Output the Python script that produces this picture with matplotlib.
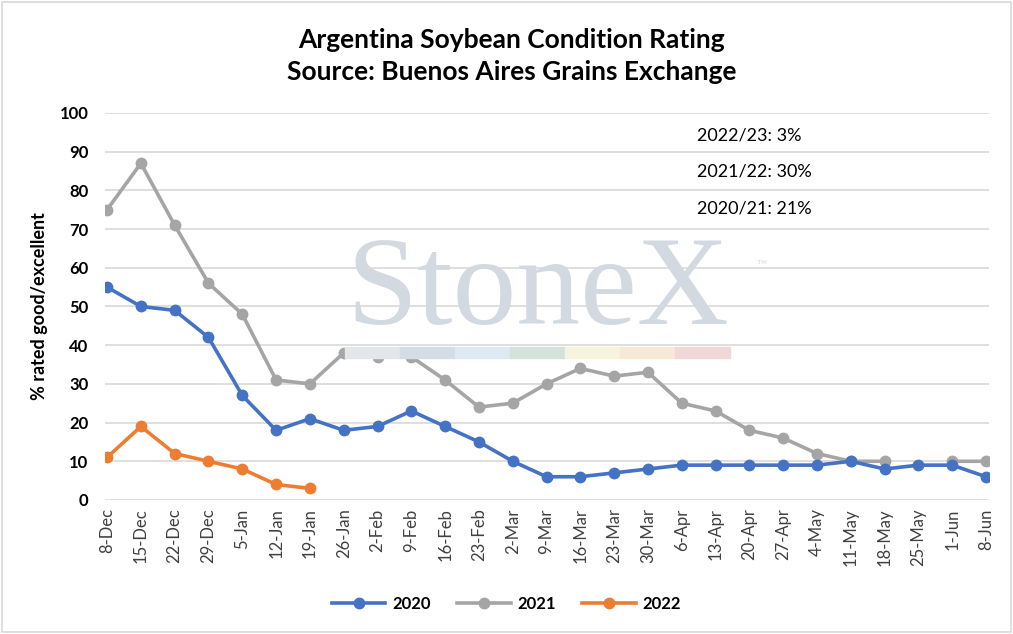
import numpy as np
import matplotlib
matplotlib.use('Agg')
import matplotlib.pyplot as plt
from matplotlib.patches import Rectangle

weeks = ['8-Dec', '15-Dec', '22-Dec', '29-Dec', '5-Jan', '12-Jan', '19-Jan',
         '26-Jan', '2-Feb', '9-Feb', '16-Feb', '23-Feb', '2-Mar', '9-Mar',
         '16-Mar', '23-Mar', '30-Mar', '6-Apr', '13-Apr', '20-Apr', '27-Apr',
         '4-May', '11-May', '18-May', '25-May', '1-Jun', '8-Jun']

s2020 = [55, 50, 49, 42, 27, 18, 21, 18, 19, 23, 19, 15, 10, 6, 6, 7, 8,
         9, 9, 9, 9, 9, 10, 8, 9, 9, 6]
s2021 = [75, 87, 71, 56, 48, 31, 30, 38, 37, 37, 31, 24, 25, 30, 34, 32, 33,
         25, 23, 18, 16, 12, 10, 10, np.nan, 10, 10]
s2022 = [11, 19, 12, 10, 8, 4, 3]

notes = ['2022/23: 3%', '2021/22: 30%', '2020/21: 21%']

plt.rcParams['font.family'] = ['Lato', 'DejaVu Sans']

fig = plt.figure(figsize=(10.13, 6.34), dpi=100)
ax = fig.add_axes([0.1037, 0.2114, 0.873, 0.6104])

# faint watermark
fig.text(0.531, 0.538, 'StoneX', fontsize=92, family='Liberation Serif',
         color='#d3d9e1', ha='center', va='center', zorder=0)
fig.text(0.752, 0.580, '\u2122', fontsize=10, color='#dde2e8',
         ha='center', va='center', zorder=0)
bar_cols = ['#e3e6ea', '#d4dce6', '#dde9f3', '#d3e3da', '#f6f4dc', '#f7e8d8', '#f1d7d7']
bx = 0.341
bw = 0.0543
for c in bar_cols:
    fig.patches.append(Rectangle((bx, 0.435), bw, 0.018, transform=fig.transFigure,
                                 color=c, zorder=0))
    bx += bw

x = np.arange(len(weeks))
lw, ms = 2.6, 7.5
ax.plot(x, s2020, color='#4472C4', lw=lw, marker='o', ms=ms, label='2020', zorder=3)
ax.plot(x, s2021, color='#A5A5A5', lw=lw, marker='o', ms=ms, label='2021', zorder=2)
ax.plot(x[:len(s2022)], s2022, color='#ED7D31', lw=lw, marker='o', ms=ms,
        label='2022', zorder=4)

ax.set_xlim(-0.06, len(weeks) - 1 + 0.1)
ax.set_ylim(0, 100)
ax.set_yticks(range(0, 101, 10))
ax.set_xticks(x)
ax.set_xticklabels(weeks, rotation=90, fontsize=12, color='#404040')
for t in ax.get_yticklabels():
    t.set_fontweight('bold')
    t.set_fontsize(12)
ax.tick_params(length=0, pad=6)
ax.tick_params(axis='y', pad=12)
ax.grid(axis='y', color='#d9d9d9', lw=1.2)
ax.set_axisbelow(True)
for sp in ax.spines.values():
    sp.set_visible(False)
ax.patch.set_alpha(0)

ax.set_ylabel('% rated good/excellent', fontsize=13, fontweight='bold', labelpad=8)

for i, n in enumerate(notes):
    fig.text(0.688, 0.787 - i * 0.058, n, fontsize=13, va='center', ha='left')

fig.text(0.505, 0.937, 'Argentina Soybean Condition Rating', fontsize=19,
         fontweight='bold', ha='center', va='center')
fig.text(0.505, 0.886, 'Source: Buenos Aires Grains Exchange', fontsize=19,
         fontweight='bold', ha='center', va='center')

leg = fig.legend(loc='center', bbox_to_anchor=(0.5, 0.048), ncol=3, frameon=False,
                 prop={'weight': 'bold', 'size': 12}, handlelength=3.2,
                 columnspacing=1.6, handletextpad=0.4)

fig.patches.append(Rectangle((0.002, 0.003), 0.996, 0.994, transform=fig.transFigure,
                             fill=False, edgecolor='#d9d9d9', lw=1.2))

plt.savefig('out.png', dpi=100)
